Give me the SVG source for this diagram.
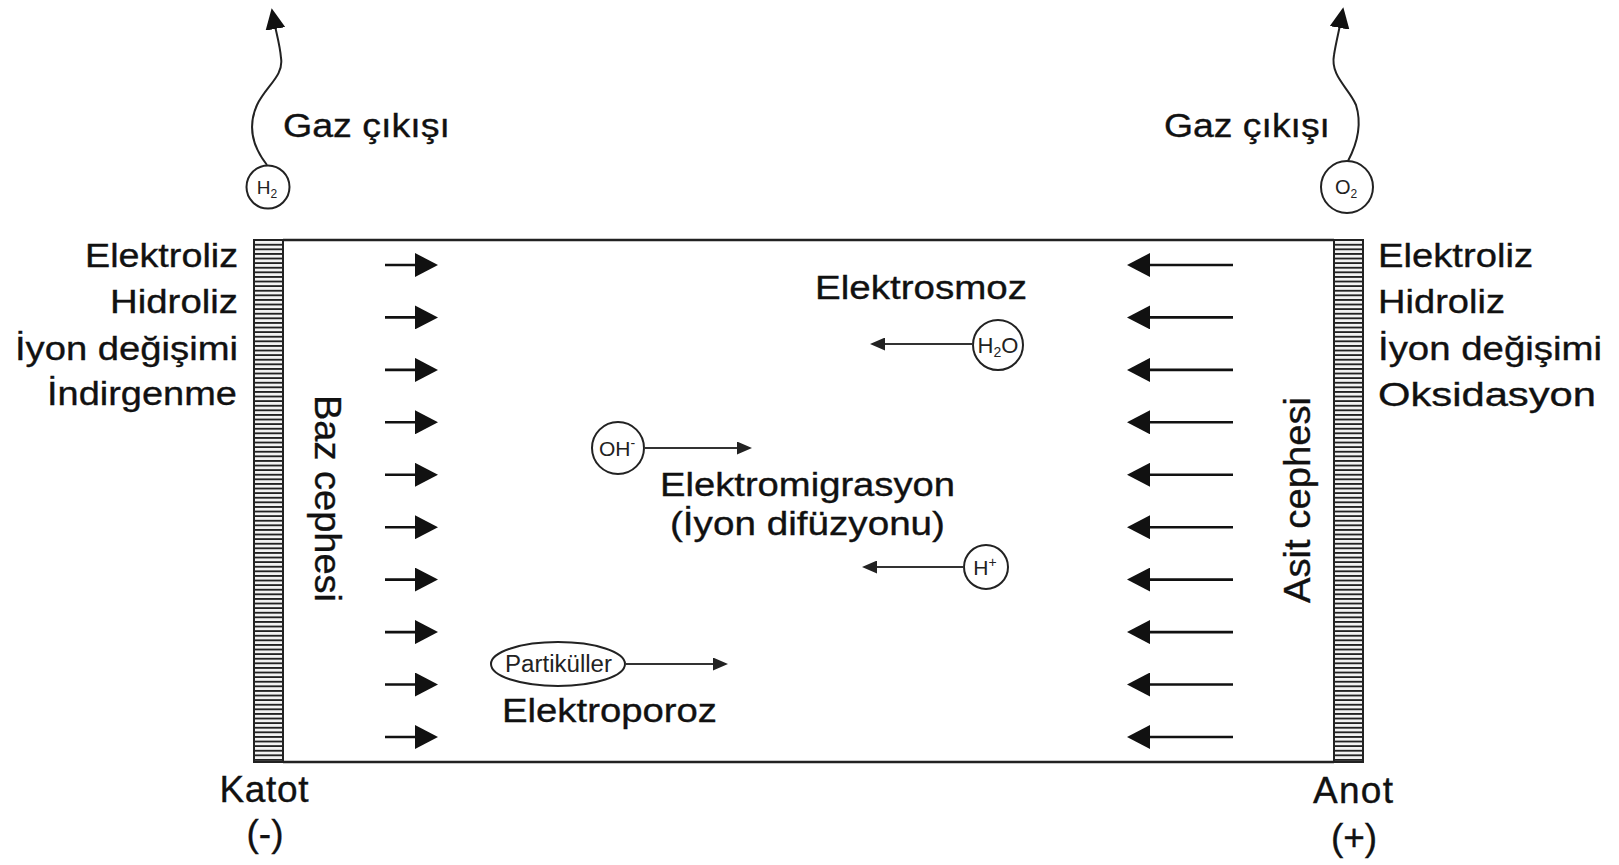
<svg xmlns="http://www.w3.org/2000/svg" width="1619" height="865" viewBox="0 0 1619 865">
<style>
.t{font-family:"Liberation Sans",Arial,sans-serif;fill:#111;stroke:#111;stroke-width:0.35;}
.m{font-size:33px;}
.b{font-size:37px;}
.s{font-family:"Liberation Sans",Arial,sans-serif;fill:#222;}
.field{stroke:#111;stroke-width:2.6;fill:none;}
.thin{stroke:#333;stroke-width:1.8;fill:none;}
.mol{fill:#fff;stroke:#222;stroke-width:2;}
.gas{stroke:#222;stroke-width:2;fill:none;}
</style>
<defs>
<pattern id="hatch" width="40" height="4.6" patternUnits="userSpaceOnUse">
<rect width="40" height="4.6" fill="#f2f2f2"/>
<line x1="0" y1="0.9" x2="40" y2="0.9" stroke="#222" stroke-width="1.7"/>
</pattern>
<marker id="bigHead" viewBox="0 0 23 24" refX="10" refY="12" markerWidth="23" markerHeight="24" orient="auto" markerUnits="userSpaceOnUse">
<path d="M0,0 L23,12 L0,24 Z" fill="#111"/>
</marker>
<marker id="smallHead" viewBox="0 0 15 13" refX="5" refY="6.5" markerWidth="15" markerHeight="13" orient="auto" markerUnits="userSpaceOnUse">
<path d="M0,0 L15,6.5 L0,13 Z" fill="#222"/>
</marker>
<marker id="gasHead" viewBox="0 0 21 20" refX="8" refY="10" markerWidth="21" markerHeight="20" orient="auto" markerUnits="userSpaceOnUse">
<path d="M0,0 L21,10 L0,20 Z" fill="#111"/>
</marker>
</defs>
<rect width="1619" height="865" fill="#fff"/>

<g id="cell">
<line x1="283" y1="240" x2="1334" y2="240" stroke="#222" stroke-width="2.6"/>
<line x1="283" y1="762" x2="1334" y2="762" stroke="#222" stroke-width="2.6"/>
</g>
<g id="cathode">
<rect x="254" y="240" width="29" height="522" fill="url(#hatch)" stroke="#222" stroke-width="2"/>
<text class="t b" x="264" y="802" text-anchor="middle" textLength="89">Katot</text>
<text class="t b" x="265" y="846" text-anchor="middle">(-)</text>
</g>
<g id="anode">
<rect x="1334" y="240" width="29" height="522" fill="url(#hatch)" stroke="#222" stroke-width="2"/>
<text class="t b" x="1353" y="803" text-anchor="middle" textLength="80">Anot</text>
<text class="t b" x="1354" y="850" text-anchor="middle">(+)</text>
</g>
<g id="cathode-reactions">
<text class="t m" x="85" y="267" textLength="153" lengthAdjust="spacingAndGlyphs">Elektroliz</text>
<text class="t m" x="110" y="313" textLength="128" lengthAdjust="spacingAndGlyphs">Hidroliz</text>
<text class="t m" x="15" y="360" textLength="223" lengthAdjust="spacingAndGlyphs">İyon değişimi</text>
<text class="t m" x="47" y="405" textLength="190" lengthAdjust="spacingAndGlyphs">İndirgenme</text>
</g>
<g id="anode-reactions">
<text class="t m" x="1378" y="267" textLength="155" lengthAdjust="spacingAndGlyphs">Elektroliz</text>
<text class="t m" x="1378" y="313" textLength="127" lengthAdjust="spacingAndGlyphs">Hidroliz</text>
<text class="t m" x="1378" y="360" textLength="224" lengthAdjust="spacingAndGlyphs">İyon değişimi</text>
<text class="t m" x="1378" y="406" textLength="218" lengthAdjust="spacingAndGlyphs">Oksidasyon</text>
</g>
<g id="base-front">
<text class="t b" transform="translate(315,395) rotate(90)" x="0" y="0" textLength="207" lengthAdjust="spacingAndGlyphs">Baz cephesi</text>
</g>
<g id="acid-front">
<text class="t b" transform="translate(1310,603) rotate(-90)" x="0" y="0" textLength="206" lengthAdjust="spacingAndGlyphs">Asit cephesi</text>
</g>
<g id="gas-h2">
<text class="t m" x="283" y="137" textLength="167" lengthAdjust="spacingAndGlyphs">Gaz çıkışı</text>
<circle class="mol" cx="268" cy="187" r="21.5"/>
<text class="s" x="267" y="194" text-anchor="middle" font-size="19">H<tspan font-size="12" dy="4">2</tspan></text>
</g>
<g id="gas-o2">
<text class="t m" x="1164" y="137" textLength="166" lengthAdjust="spacingAndGlyphs">Gaz çıkışı</text>
<circle class="mol" cx="1347" cy="187" r="26"/>
<text class="s" x="1346" y="194" text-anchor="middle" font-size="20">O<tspan font-size="12" dy="4">2</tspan></text>
</g>
<g id="electroosmosis">
<text class="t m" x="815" y="299" textLength="212" lengthAdjust="spacingAndGlyphs">Elektrosmoz</text>
<circle class="mol" cx="998" cy="345" r="25" stroke-width="3"/>
<text class="s" x="998" y="353" text-anchor="middle" font-size="22">H<tspan font-size="14" dy="4">2</tspan><tspan dy="-4">O</tspan></text>
</g>
<g id="electromigration">
<text class="t m" x="660" y="496" textLength="295" lengthAdjust="spacingAndGlyphs">Elektromigrasyon</text>
<text class="t m" x="670" y="535" textLength="275" lengthAdjust="spacingAndGlyphs">(İyon difüzyonu)</text>
</g>
<g id="ion-oh">
<circle class="mol" cx="618" cy="448" r="26"/>
<text class="s" x="617" y="456" text-anchor="middle" font-size="21">OH<tspan font-size="14" dy="-8">-</tspan></text>
</g>
<g id="ion-h">
<circle class="mol" cx="986" cy="567" r="22"/>
<text class="s" x="985" y="575" text-anchor="middle" font-size="21">H<tspan font-size="14" dy="-8">+</tspan></text>
</g>
<g id="particles">
<ellipse class="mol" cx="558" cy="664" rx="67" ry="22" stroke-width="2.4"/>
<text class="s" x="505" y="672" font-size="23" textLength="107" lengthAdjust="spacingAndGlyphs">Partiküller</text>
<text class="t m" x="502" y="722" textLength="215" lengthAdjust="spacingAndGlyphs">Elektroporoz</text>
</g>

<g id="connectors">
<path class="gas" d="M267,165 C252,146 248,125 257,105 C266,86 284,76 281,58 C280,45 276,32 274,21" marker-end="url(#gasHead)"/>
<path class="gas" d="M1348,161 C1357,144 1362,124 1356,105 C1349,88 1330,76 1334,55 C1336,42 1339,31 1341,20" marker-end="url(#gasHead)"/>
<g id="field-left">
<line class="field" x1="385" y1="265" x2="425" y2="265" marker-end="url(#bigHead)"/>
<line class="field" x1="385" y1="317.4" x2="425" y2="317.4" marker-end="url(#bigHead)"/>
<line class="field" x1="385" y1="369.9" x2="425" y2="369.9" marker-end="url(#bigHead)"/>
<line class="field" x1="385" y1="422.3" x2="425" y2="422.3" marker-end="url(#bigHead)"/>
<line class="field" x1="385" y1="474.8" x2="425" y2="474.8" marker-end="url(#bigHead)"/>
<line class="field" x1="385" y1="527.2" x2="425" y2="527.2" marker-end="url(#bigHead)"/>
<line class="field" x1="385" y1="579.6" x2="425" y2="579.6" marker-end="url(#bigHead)"/>
<line class="field" x1="385" y1="632.1" x2="425" y2="632.1" marker-end="url(#bigHead)"/>
<line class="field" x1="385" y1="684.5" x2="425" y2="684.5" marker-end="url(#bigHead)"/>
<line class="field" x1="385" y1="737" x2="425" y2="737" marker-end="url(#bigHead)"/>
</g>
<g id="field-right">
<line class="field" x1="1233" y1="265" x2="1140" y2="265" marker-end="url(#bigHead)"/>
<line class="field" x1="1233" y1="317.4" x2="1140" y2="317.4" marker-end="url(#bigHead)"/>
<line class="field" x1="1233" y1="369.9" x2="1140" y2="369.9" marker-end="url(#bigHead)"/>
<line class="field" x1="1233" y1="422.3" x2="1140" y2="422.3" marker-end="url(#bigHead)"/>
<line class="field" x1="1233" y1="474.8" x2="1140" y2="474.8" marker-end="url(#bigHead)"/>
<line class="field" x1="1233" y1="527.2" x2="1140" y2="527.2" marker-end="url(#bigHead)"/>
<line class="field" x1="1233" y1="579.6" x2="1140" y2="579.6" marker-end="url(#bigHead)"/>
<line class="field" x1="1233" y1="632.1" x2="1140" y2="632.1" marker-end="url(#bigHead)"/>
<line class="field" x1="1233" y1="684.5" x2="1140" y2="684.5" marker-end="url(#bigHead)"/>
<line class="field" x1="1233" y1="737" x2="1140" y2="737" marker-end="url(#bigHead)"/>
</g>
<line class="thin" x1="973" y1="344" x2="880" y2="344" marker-end="url(#smallHead)"/>
<line class="thin" x1="644" y1="448" x2="742" y2="448" marker-end="url(#smallHead)"/>
<line class="thin" x1="964" y1="567" x2="872" y2="567" marker-end="url(#smallHead)"/>
<line class="thin" x1="625" y1="664" x2="718" y2="664" marker-end="url(#smallHead)"/>
</g>
</svg>
